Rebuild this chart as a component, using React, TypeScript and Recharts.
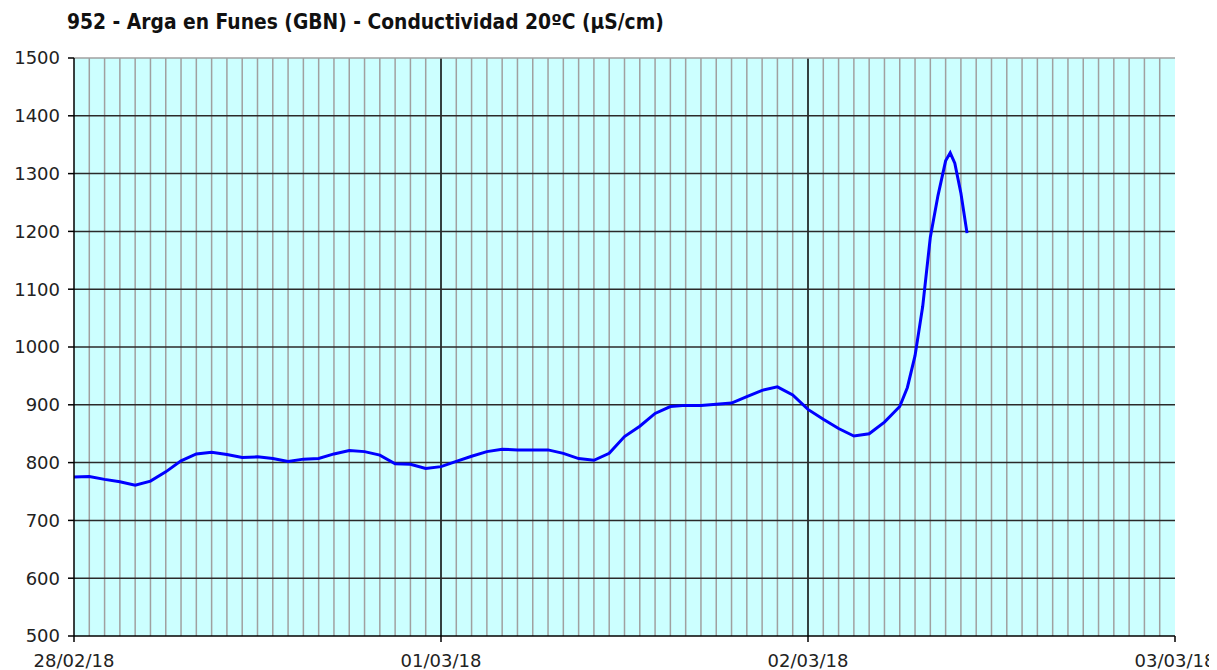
import React from 'react';
import { LineChart, Line, XAxis, YAxis, CartesianGrid, ReferenceLine } from 'recharts';

const title = '952 - Arga en Funes (GBN) - Conductividad 20ºC (µS/cm)';

// hours since 28/02/18 00:00
const hours = [
  0, 1, 2, 3, 4, 5, 6, 7, 8, 9, 10, 11, 12, 13, 14, 15, 16, 17, 18, 19, 20, 21, 22, 23,
  24, 25, 26, 27, 28, 29, 30, 31, 32, 33, 34, 35, 36, 37, 38, 39, 40, 41, 42, 43, 44, 45, 46, 47,
  48, 49, 50, 51, 52, 53, 54, 54.5, 55, 55.5, 56, 56.5, 57, 57.3, 57.6, 58, 58.4,
];
const conductivity = [
  775, 776, 771, 767, 761, 768, 784, 803, 815, 818, 814, 809, 810, 807, 802, 806, 807, 815, 821, 819, 813, 798, 797, 790,
  793, 802, 811, 819, 823, 822, 822, 822, 816, 807, 804, 816, 845, 863, 885, 897, 899, 899, 901, 903, 914, 925, 931, 917,
  892, 875, 859, 846, 850, 870, 897, 930, 985, 1070, 1190, 1262, 1322, 1336, 1318, 1266, 1197,
];

const yTicks = [500, 600, 700, 800, 900, 1000, 1100, 1200, 1300, 1400, 1500];
const dayTicks = [0, 24, 48, 72];
const dayLabels = ['28/02/18', '01/03/18', '02/03/18', '03/03/18'];
const hourLines = Array.from({ length: 72 }, (_, i) => i + 1).filter((h) => h % 24 !== 0);
const innerYLines = [600, 700, 800, 900, 1000, 1100, 1200, 1300, 1400];

const data = hours.map((h, i) => ({ h, v: conductivity[i] }));

const font = 'DejaVu Sans, Verdana, sans-serif';

export default function App() {
  return (
    <div style={{ position: 'relative', width: 1209, height: 662, background: '#fff' }}>
      <div
        style={{
          position: 'absolute',
          left: 59,
          top: 1,
          fontFamily: "'DejaVu Sans Condensed', 'DejaVu Sans', sans-serif",
          fontStretch: 'condensed',
          fontWeight: 'bold',
          fontSize: 20.8,
          lineHeight: '26px',
          color: '#111',
          whiteSpace: 'nowrap',
        }}
      >
        {title}
      </div>
      <LineChart
        width={1209}
        height={662}
        data={data}
        margin={{ top: 50, right: 42, bottom: 4, left: 0 }}
        style={{ overflow: 'visible' }}
      >
        <CartesianGrid horizontal={false} vertical={false} fill="#ccffff" />
        {hourLines.map((h) => (
          <ReferenceLine key={'h' + h} x={h} stroke="#a0a0a0" strokeWidth={1.5} />
        ))}
        <ReferenceLine x={24} stroke="#000" strokeWidth={1.5} />
        <ReferenceLine x={48} stroke="#000" strokeWidth={1.5} />
        {innerYLines.map((y) => (
          <ReferenceLine key={'y' + y} y={y} stroke="#2a2a2a" strokeWidth={1.5} />
        ))}
        <ReferenceLine y={1500} stroke="#a0a0a0" strokeWidth={1.5} />
        <XAxis
          type="number"
          dataKey="h"
          domain={[0, 72]}
          ticks={dayTicks}
          tickFormatter={(t: number) => dayLabels[dayTicks.indexOf(t)]}
          height={30}
          tickSize={6}
          tickMargin={12}
          stroke="#000"
          axisLine={{ stroke: '#000', strokeWidth: 1.5 }}
          tickLine={{ stroke: '#000', strokeWidth: 1.5 }}
          tick={{ fontSize: 18, fill: '#222', fontFamily: font }}
          interval={0}
        />
        <YAxis
          type="number"
          domain={[500, 1500]}
          ticks={yTicks}
          width={66}
          tickSize={6}
          tickMargin={8}
          axisLine={{ stroke: '#000', strokeWidth: 1.5 }}
          tickLine={{ stroke: '#000', strokeWidth: 1.5 }}
          tick={{ fontSize: 18, fill: '#222', fontFamily: font }}
          interval={0}
        />
        <Line
          type="linear"
          dataKey="v"
          stroke="#0000ff"
          strokeWidth={3}
          dot={false}
          isAnimationActive={false}
        />
      </LineChart>
    </div>
  );
}
